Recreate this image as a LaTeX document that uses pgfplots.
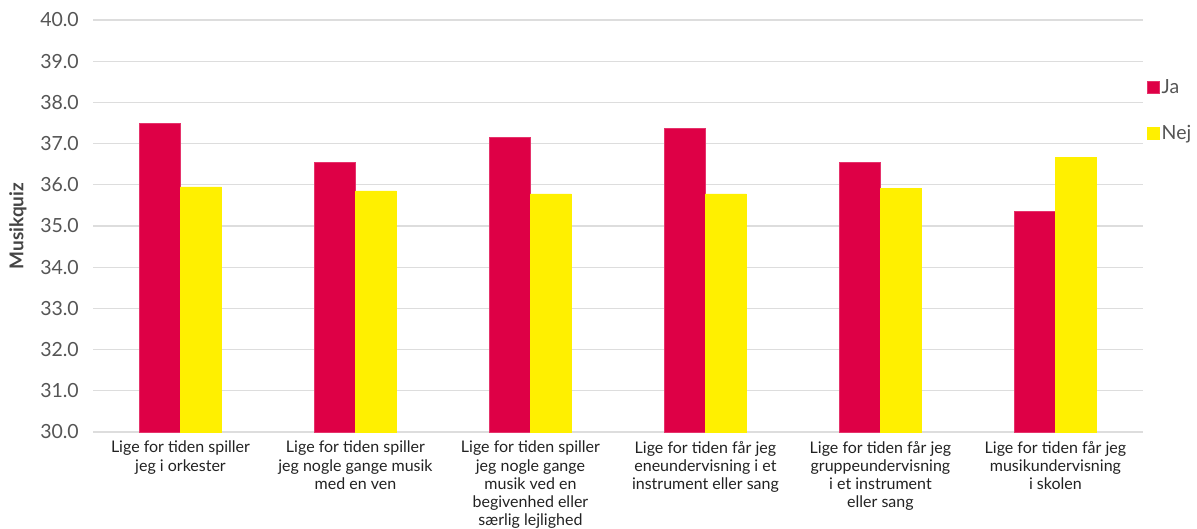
\documentclass[border=0pt]{standalone}
\usepackage{fontspec}
\setmainfont{Lato}
\usepackage{pgfplots}
\pgfplotsset{compat=1.18}
\definecolor{jared}{HTML}{DE0046}
\definecolor{nejyel}{HTML}{FFF000}
\definecolor{gridgray}{HTML}{DDDDDD}
\definecolor{ticktxt}{HTML}{555555}
\definecolor{cattxt}{HTML}{222222}

\begin{document}
\begin{tikzpicture}[x=1pt,y=1pt]
\useasboundingbox (0,0) rectangle (1197,528);
\begin{axis}[
    at={(93pt,96pt)}, anchor=south west,
    width=1050pt, height=412pt, scale only axis,
    ybar=0pt, bar width=41pt,
    ymin=30, ymax=40, ytick={30,31,...,40},
    xmin=-0.5, xmax=5.5, xtick=data,
    xticklabels={
        {Lige for tiden spiller\\jeg i orkester},
        {Lige for tiden spiller\\jeg nogle gange musik\\med en ven},
        {Lige for tiden spiller\\jeg nogle gange\\musik ved en\\begivenhed eller\\særlig lejlighed},
        {Lige for tiden får jeg\\eneundervisning i et\\instrument eller sang},
        {Lige for tiden får jeg\\gruppeundervisning\\i et instrument\\eller sang},
        {Lige for tiden får jeg\\musikundervisning\\i skolen}},
    xticklabel style={align=center, anchor=north, inner sep=0pt, yshift=-9pt,
        font=\fontsize{16}{18.2}\selectfont, text=cattxt},
    yticklabel style={anchor=east, inner sep=0pt, xshift=-14pt,
        font=\fontsize{19.5}{22}\selectfont, text=ticktxt},
    /pgf/number format/.cd, fixed, fixed zerofill, precision=1, assume math mode=true,
    /pgfplots/.cd,
    major tick length=0pt,
    axis x line*=bottom, axis y line*=left,
    x axis line style={gridgray, line width=1.3pt, -},
    y axis line style={draw=none},
    ymajorgrids, grid style={gridgray, line width=1.3pt},
    ylabel={Musikquiz},
    every axis y label/.style={at={(rel axis cs:0,0.5)}, xshift=-75pt, rotate=90,
        anchor=center, font=\bfseries\fontsize{19}{21}\selectfont, text=ticktxt!80!black},
    legend style={at={(rel axis cs:1,0.86)}, anchor=north west, xshift=4pt,
        draw=none, fill=none, font=\fontsize{19.5}{22}\selectfont, text=ticktxt,
        row sep=26pt, inner sep=0pt, legend cell align=left},
    legend image code/.code={\fill[#1] (0pt,-6pt) rectangle (12pt,6pt);},
    clip=false,
]
\addplot[fill=jared, draw=jared!80!white, line width=0.6pt] coordinates {
    (0,37.49) (1,36.54) (2,37.16) (3,37.37) (4,36.55) (5,35.36)};
\addlegendentry{Ja}
\addplot[fill=nejyel, draw=nejyel, line width=0.6pt] coordinates {
    (0,35.95) (1,35.85) (2,35.78) (3,35.78) (4,35.92) (5,36.67)};
\addlegendentry{Nej}
\end{axis}
\end{tikzpicture}
\end{document}
